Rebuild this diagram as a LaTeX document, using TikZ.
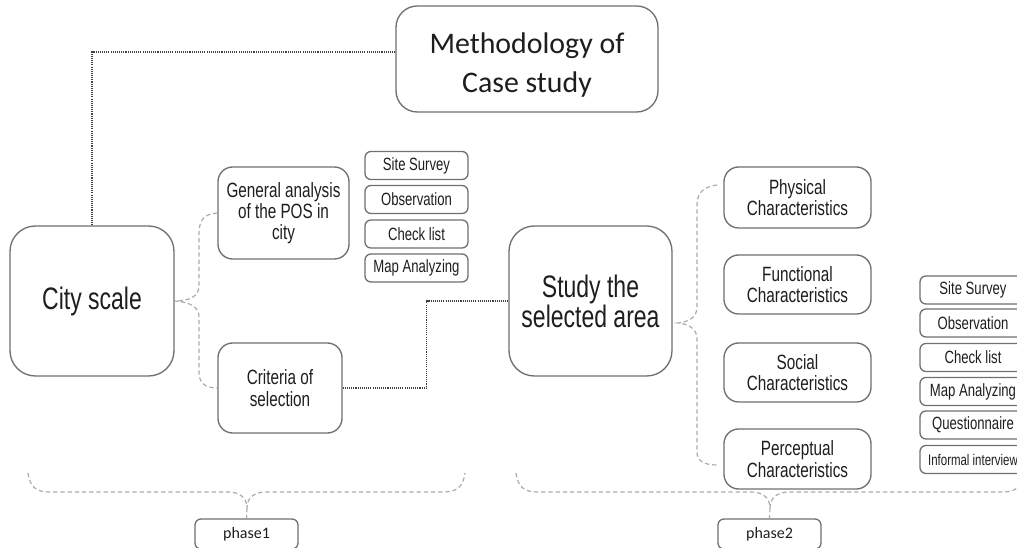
\documentclass[tikz,border=0pt]{standalone}
\usepackage{fontspec}
\setmainfont{Carlito}
\newfontfamily\cond[FakeStretch=0.74]{Liberation Sans}
\definecolor{edge}{HTML}{707070}
\definecolor{brace}{HTML}{ABABAB}
\definecolor{ink}{HTML}{1E1E1E}
\tikzset{
  box/.style={draw=edge, line width=1pt, fill=white, inner sep=0pt, align=center, text=ink},
  bigbox/.style={box, rounded corners=19pt, font=\cond\fontsize{23.3}{22.5}\selectfont},
  midbox/.style={box, rounded corners=11pt, font=\cond\fontsize{15.5}{16}\selectfont},
  toolbox/.style={box, rounded corners=4.5pt, minimum width=103*0.75pt, minimum height=28*0.75pt, font=\cond\fontsize{13.3}{14}\selectfont},
  phasebox/.style={box, rounded corners=4.5pt, minimum width=103*0.75pt, minimum height=30*0.75pt, font=\fontsize{12}{13}\selectfont},
  bracepath/.style={draw=brace, line width=0.9pt, dash pattern=on 3.2pt off 2.2pt},
  link/.style={draw=ink!85, line width=0.8pt, dash pattern=on 0.8pt off 0.8pt},
}
\begin{document}
\begin{tikzpicture}[x=0.75pt, y=-0.75pt]
\clip (0,0) rectangle (1017,548);
\fill[white] (0,0) rectangle (1017,548);

% main boxes
\node[box, rounded corners=16pt, minimum width=262*0.75pt, minimum height=106*0.75pt,
      font=\fontsize{22.4}{27.75}\selectfont] (meth) at (527,59)
      {\raisebox{-10pt}[0pt][0pt]{\begin{tabular}{@{}c@{}}Methodology of\\[1.5pt]Case study\end{tabular}}};
\node[bigbox, minimum width=164*0.75pt, minimum height=150*0.75pt] (city) at (92,301) {City scale};
\node[bigbox, minimum width=163*0.75pt, minimum height=150*0.75pt] (study) at (590.5,301) {Study the\\selected area};

% phase one branches
\node[midbox, minimum width=131*0.75pt, minimum height=92*0.75pt] (gen) at (283.5,213) {General analysis\\of the POS in\\city};
\node[midbox, minimum width=124*0.75pt, minimum height=90*0.75pt] (crit) at (280,388) {Criteria of\\selection};

\node[toolbox] (l1) at (416.5,165.5) {Site Survey};
\node[toolbox] (l2) at (416.5,199.5) {Observation};
\node[toolbox] (l3) at (416.5,234) {Check list};
\node[toolbox] (l4) at (416.5,268) {Map Analyzing};

% phase two branches
\node[midbox, minimum width=147*0.75pt, minimum height=61*0.75pt] (phys) at (797.5,197.5) {Physical\\Characteristics};
\node[midbox, minimum width=147*0.75pt, minimum height=59*0.75pt] (func) at (797.5,284.5) {Functional\\Characteristics};
\node[midbox, minimum width=147*0.75pt, minimum height=59*0.75pt] (soc) at (797.5,372.5) {Social\\Characteristics};
\node[midbox, minimum width=147*0.75pt, minimum height=60*0.75pt] (perc) at (797.5,459) {Perceptual\\Characteristics};

\node[toolbox, minimum width=106*0.75pt] (r1) at (973,290) {Site Survey};
\node[toolbox, minimum width=106*0.75pt] (r2) at (973,323) {Observation};
\node[toolbox, minimum width=106*0.75pt] (r3) at (973,357.5) {Check list};
\node[toolbox, minimum width=106*0.75pt] (r4) at (973,391.5) {Map Analyzing};
\node[toolbox, minimum width=106*0.75pt] (r5) at (973,425) {Questionnaire};
\node[toolbox, minimum width=106*0.75pt, font=\cond\fontsize{11.6}{12}\selectfont] (r6) at (973,459.5) {Informal interview};

% phase labels
\node[phasebox] (ph1) at (246.5,534) {phase1};
\node[phasebox] (ph2) at (769.5,534) {phase2};

% dotted links
\draw[link] ([yshift=5.25pt]meth.west) -| (city.north);
\draw[link] (crit.east) -- ++(84,0) |- (study.west);

% brace from City scale to its two branches
\draw[bracepath] (gen.west) .. controls (203,214) and (199,221) .. (199,234) -- (199,286)
  .. controls (199,296) and (190,301) .. (city.east)
  .. controls (190,302) and (199,307) .. (199,317) -- (199,372)
  .. controls (199,383) and (205,388) .. (crit.west);

% brace from the selected area to the four characteristics
\draw[bracepath] (717,185) .. controls (703,187) and (697,193) .. (697,205) -- (697,307)
  .. controls (697,317) and (689,322) .. (678,323)
  .. controls (689,324) and (697,329) .. (697,339) -- (697,452)
  .. controls (697,461) and (704,465) .. (717,465);

% phase braces
\draw[bracepath] (28,473) .. controls (30,487) and (36,492) .. (50,492) -- (228,492)
  .. controls (240,492) and (247,498) .. (247,508)
  .. controls (247,498) and (254,492) .. (266,492) -- (443,492)
  .. controls (457,492) and (463,487) .. (465,473);
\draw[bracepath] (247,508) -- (ph1.north);
\draw[bracepath] (516,473) .. controls (518,487) and (524,492) .. (538,492) -- (751,492)
  .. controls (763,492) and (770,498) .. (770,508)
  .. controls (770,498) and (777,492) .. (789,492) -- (1002,492)
  .. controls (1016,492) and (1022,487) .. (1024,473);
\draw[bracepath] (770,508) -- (ph2.north);
\end{tikzpicture}
\end{document}
